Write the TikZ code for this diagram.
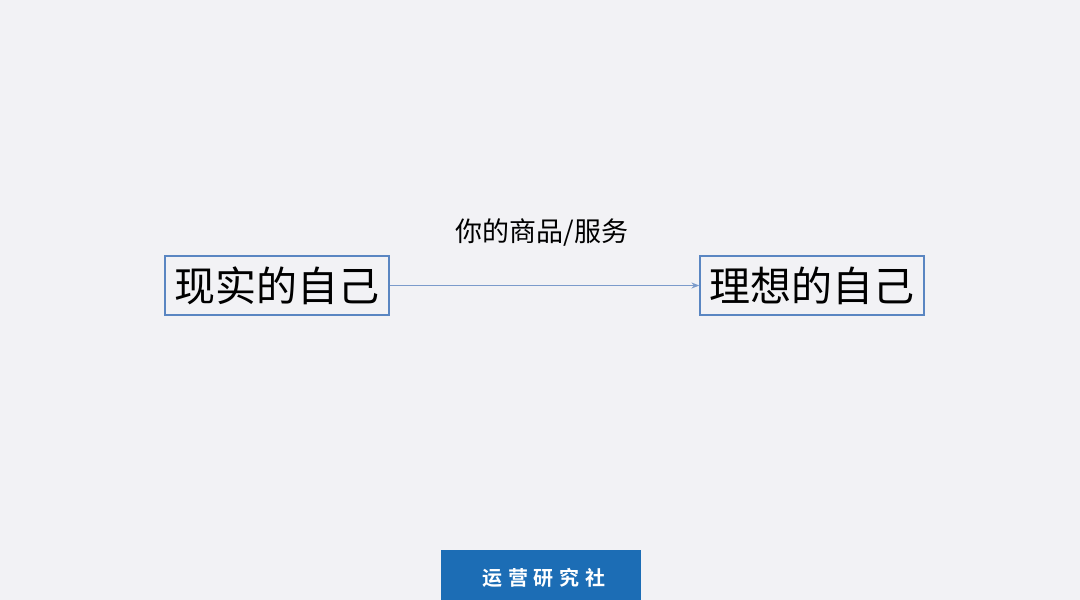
\documentclass[tikz,border=0pt]{standalone}
\usepackage{fontspec}
\newfontfamily\cjk{Noto Sans CJK SC}
\newfontfamily\cjkb[LetterSpace=28]{Noto Sans CJK SC Bold}
\usetikzlibrary{arrows.meta}
\definecolor{bg}{HTML}{F2F2F5}
\definecolor{boxline}{HTML}{5A86C2}
\definecolor{arrowc}{HTML}{7B9BCB}
\definecolor{brand}{HTML}{1C6DB5}
\tikzset{
  selfbox/.style={draw=boxline, line width=1.2pt, minimum width=224pt, minimum height=59pt,
    inner sep=0pt, font=\cjk\fontsize{41pt}{44pt}\selectfont, text=black},
  link/.style={draw=arrowc, line width=1.6pt, -{Stealth[length=8pt,width=6pt]}},
}
\begin{document}
\begin{tikzpicture}[x=1pt,y=-1pt]
\fill[bg] (0,0) rectangle (1080,600);
\useasboundingbox (0,0) rectangle (1080,600);
\node[selfbox] (real) at (277,285.5) {现实的自己};
\node[selfbox] (ideal) at (812,285.5) {理想的自己};
\draw[link] (real.east) -- (ideal.west);
\node[font=\cjk\fontsize{27pt}{30pt}\selectfont, text=black] (label) at (542,233) {你的商品/服务};
\fill[brand] (441,550) rectangle (641,600);
\node[font=\cjkb\fontsize{20pt}{24pt}\selectfont, text=white] (brandtxt) at (544,578) {运营研究社};
\end{tikzpicture}
\end{document}
